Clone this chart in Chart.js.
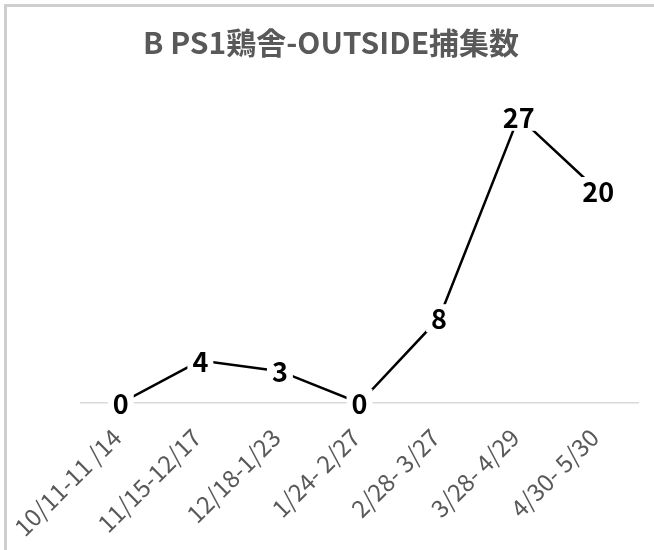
<!DOCTYPE html>
<html>
<head>
<meta charset="utf-8">
<script src="https://cdn.jsdelivr.net/npm/chart.js@4.4.1/dist/chart.umd.min.js"></script>
<style>
  html, body { margin: 0; padding: 0; background: #fff; }
  #frame { position: absolute; left: 4px; top: 4px; width: 700px; height: 600px;
           border-left: 3px solid #cfcfcf; border-top: 3px solid #cfcfcf; }
  #wrap { position: absolute; left: 0; top: 0; width: 654px; height: 550px; }
</style>
</head>
<body>
<div id="frame"></div>
<div id="wrap"><canvas id="catchChart"></canvas></div>
<script>
const periods = ['10/11-11 /14', '11/15-12/17', '12/18-1/23', '1/24- 2/27', '2/28- 3/27', '3/28- 4/29', '4/30- 5/30'];
const counts = [0, 4, 3, 0, 8, 27, 20];
const chartTitle = 'B PS1鶏舎-OUTSIDE捕集数';

const fontFamily = '"Noto Sans CJK JP", "Noto Sans", sans-serif';

// labels drawn on top of each point, with white box behind them
const pointLabels = {
    id: 'pointLabels',
    afterDatasetsDraw(chart) {
        const ctx = chart.ctx;
        const meta = chart.getDatasetMeta(0);
        ctx.save();
        ctx.font = 'bold 27px ' + fontFamily;
        ctx.textAlign = 'center';
        ctx.textBaseline = 'middle';
        meta.data.forEach((pt, i) => {
            const txt = String(counts[i]);
            const w = ctx.measureText(txt).width;
            ctx.fillStyle = '#ffffff';
            ctx.fillRect(pt.x - w / 2 - 5, pt.y - 14, w + 10, 28);
            ctx.fillStyle = '#000000';
            ctx.fillText(txt, pt.x, pt.y + 1);
        });
        ctx.restore();
    }
};

let chart;

function initChart() {
    const ctx = document.getElementById('catchChart').getContext('2d');
    chart = new Chart(ctx, {
        type: 'line',
        data: {
            labels: periods,
            datasets: [{
                label: chartTitle,
                data: counts,
                borderColor: '#000000',
                borderWidth: 2.5,
                pointRadius: 0,
                tension: 0
            }]
        },
        options: {
            responsive: true,
            maintainAspectRatio: false,
            animation: false,
            layout: {
                padding: { left: 24, right: 16, top: 0, bottom: 0 }
            },
            scales: {
                y: {
                    display: true,
                    min: 0,
                    max: 30,
                    grid: { display: false },
                    border: { display: false },
                    ticks: { display: false },
                    afterFit: function(scale) {
                        scale.width = 57;
                    }
                },
                x: {
                    offset: true,
                    grid: {
                        display: false
                    },
                    border: {
                        display: true,
                        color: '#d9d9d9',
                        width: 1.5
                    },
                    ticks: {
                        minRotation: 45,
                        maxRotation: 45,
                        color: '#595959',
                        padding: 12,
                        labelOffset: -4,
                        font: { family: fontFamily, size: 24 }
                    },
                    afterFit: function(scale) {
                        scale.height = 147;
                    }
                }
            },
            plugins: {
                legend: {
                    display: false
                },
                tooltip: {
                    enabled: false
                },
                title: {
                    display: true,
                    text: chartTitle,
                    color: '#595959',
                    font: { family: fontFamily, size: 30, weight: 'bold' },
                    padding: { top: 25, bottom: 24 }
                }
            }
        },
        plugins: [pointLabels]
    });
}

initChart();
</script>
</body>
</html>
